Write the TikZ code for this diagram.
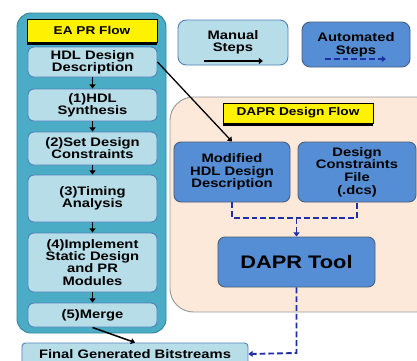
\documentclass[tikz,border=0pt]{standalone}
\usepackage{fontspec}
\setmainfont{Liberation Sans}[FakeStretch=1.2]
\usepackage{xcolor}
\usepackage{tikz}
\usetikzlibrary{shapes,arrows.meta,positioning,shadows}

\definecolor{panelteal}{HTML}{4BACC6}
\definecolor{panelline}{HTML}{31859C}
\definecolor{lightstep}{HTML}{B7DDE8}
\definecolor{lightline}{HTML}{4F81BD}
\definecolor{darkstep}{HTML}{558ED5}
\definecolor{darkline}{HTML}{4A5F7A}
\definecolor{peach}{HTML}{FDE9D9}
\definecolor{autoblue}{HTML}{1F2FA8}

\tikzstyle{manualstep} = [rectangle, rounded corners=5pt, draw=lightline, line width=0.8pt, fill=lightstep, align=center, inner sep=0pt, font=\bfseries\fontsize{10.5pt}{10.4pt}\selectfont]
\tikzstyle{autostep} = [rectangle, rounded corners=6pt, draw=darkline, line width=0.8pt, fill=darkstep, align=center, inner sep=0pt, font=\bfseries\fontsize{10.5pt}{10.8pt}\selectfont]
\tikzstyle{flowtitle} = [rectangle, draw=black, line width=0.6pt, fill=yellow, inner sep=0pt, font=\bfseries\fontsize{9.7pt}{11pt}\selectfont, drop shadow={shadow xshift=0pt, shadow yshift=-0.08cm, fill=black, opacity=1}]
\tikzstyle{arrow} = [line width=1.3pt, -{Triangle[length=3.5pt,width=5pt]}]
\tikzstyle{autoarrow} = [line width=1.6pt, autoblue, dash pattern=on 5pt off 2.5pt, -{Triangle[length=3.5pt,width=5pt]}]
\tikzstyle{autoline} = [line width=1.6pt, autoblue, dash pattern=on 5pt off 2.5pt]

\begin{document}
\begin{tikzpicture}[x=0.03cm, y=-0.03cm]
    \useasboundingbox (0,0) rectangle (417,360);
    \clip (0,0) rectangle (417,360);

    % Panels
    \draw[panelline, line width=0.8pt, fill=panelteal, rounded corners=12pt] (17,13) rectangle (166,333);
    \draw[gray!80, line width=0.8pt, fill=peach, rounded corners=20pt] (170,97) rectangle (440,312);

    % EA PR flow
    \node (eaflow) [flowtitle, minimum width=3.9cm, minimum height=0.69cm] at (92,30.5) {EA PR Flow};
    \node (hdl) [manualstep, minimum width=3.87cm, minimum height=0.9cm] at (92.5,62) {HDL Design\\Description};
    \node (synth) [manualstep, minimum width=3.87cm, minimum height=0.96cm] at (92.5,105) {(1)HDL\\Synthesis};
    \node (constr) [manualstep, minimum width=3.87cm, minimum height=0.99cm] at (92.5,148.5) {(2)Set Design\\Constraints};
    \node (timing) [manualstep, minimum width=3.87cm, minimum height=1.41cm] at (92.5,198.5) {(3)Timing\\Analysis};
    \node (impl) [manualstep, minimum width=3.87cm, minimum height=1.77cm] at (92.5,262.5) {(4)Implement\\Static Design\\and PR\\Modules};
    \node (merge) [manualstep, minimum width=3.87cm, minimum height=0.72cm] at (92.5,315) {(5)Merge};
    \node (final) [manualstep, rounded corners=3pt, minimum width=6.78cm, minimum height=0.66cm] at (135,354) {Final Generated Bitstreams};

    % Legend
    \node (manual) [manualstep, rounded corners=7pt, minimum width=3.3cm, minimum height=1.35cm] at (233,42.5) {Manual\\Steps};
    \node (auto) [autostep, rounded corners=7pt, minimum width=3.24cm, minimum height=1.35cm] at (356,44.5) {Automated\\Steps};
    \coordinate (m1) at (204,61);
    \coordinate (m2) at (263,61);
    \coordinate (a1) at (325,59);
    \coordinate (a2) at (386,59);

    % DAPR flow
    \node (daprflow) [flowtitle, minimum width=4.5cm, minimum height=0.6cm] at (298,113) {DAPR Design Flow};
    \node (modhdl) [autostep, minimum width=3.48cm, minimum height=1.8cm] at (232,172) {Modified\\HDL Design\\Description};
    \node (dcs) [autostep, minimum width=3.54cm, minimum height=1.8cm] at (357,172) {Design\\Constraints\\File\\(.dcs)};
    \node (tool) [autostep, minimum width=4.71cm, minimum height=1.5cm, font=\bfseries\fontsize{15.5pt}{17pt}\selectfont] at (296.5,262) {DAPR Tool};
    \coordinate (join) at (296.5,218);
    \coordinate (turn) at (296.5,353);

    % Arrows
    \draw[arrow] (hdl) -- (synth);
    \draw[arrow] (synth) -- (constr);
    \draw[arrow] (constr) -- (timing);
    \draw[arrow] (timing) -- (impl);
    \draw[arrow] (impl) -- (merge);
    \draw[arrow] (merge.south) -- (final.north);
    \draw[arrow, line width=1.1pt] (hdl.east) -- (modhdl.north);
    \draw[arrow, line width=1pt] (m1) -- (m2);
    \draw[autoarrow, line width=1.1pt] (a1) -- (a2);
    \draw[autoline] (modhdl.south) |- (join) -| (dcs.south);
    \draw[autoarrow] (join) -- (tool.north);
    \draw[autoarrow] (tool.south) -- (turn) -- (final.east);

\end{tikzpicture}
\end{document}
